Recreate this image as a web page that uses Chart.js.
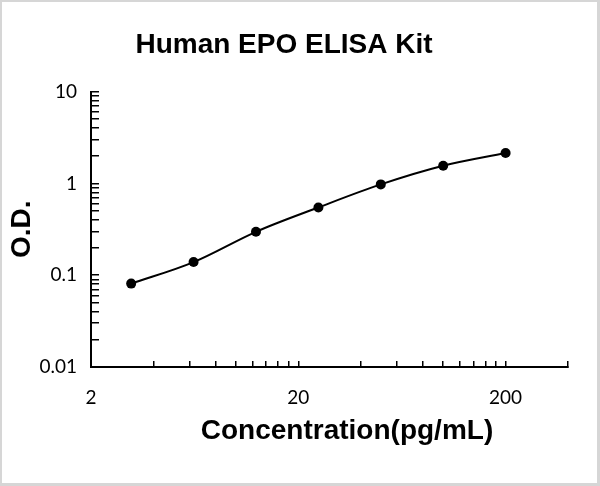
<!DOCTYPE html>
<html>
<head>
<meta charset="utf-8">
<script src="https://cdn.jsdelivr.net/npm/chart.js@4.4.0/dist/chart.umd.min.js"></script>
<style>
  html, body { margin: 0; padding: 0; background: #fff; }
  #wrap { position: relative; width: 600px; height: 486px; }
  #frame { position: absolute; left: 0; top: 0; right: 0; bottom: 0; box-sizing: border-box;
           border-style: solid; border-color: #d6d6d6; border-width: 2px 3px 3px 2px; pointer-events: none; }
</style>
</head>
<body>
<div id="wrap">
  <canvas id="curveChart" width="600" height="486"></canvas>
  <div id="frame"></div>
</div>
<script>
// standard curve
var concentrations = [3.125, 6.25, 12.5, 25, 50, 100, 200];
var odValues = [0.081, 0.139, 0.297, 0.547, 0.975, 1.556, 2.14];

// axis ticks (log scale, labels only on decades)
var xTicks = [2, 4, 6, 8, 10, 12, 14, 16, 18, 20, 40, 60, 80, 100, 120, 140, 160, 180, 200, 400];
var xLabels = {2: '2', 20: '20', 200: '200'};
var yTicks = [0.01, 0.02, 0.03, 0.04, 0.05, 0.06, 0.07, 0.08, 0.09,
              0.1, 0.2, 0.3, 0.4, 0.5, 0.6, 0.7, 0.8, 0.9,
              1, 2, 3, 4, 5, 6, 7, 8, 9, 10];
var yLabels = {0.01: '0.01', 0.1: '0.1', 1: '1', 10: '10'};

var chartTitle = 'Human EPO ELISA Kit';
var xTitle = 'Concentration(pg/mL)';
var yTitle = 'O.D.';

var boldFont = '"Liberation Sans", Arial, sans-serif';
var tickFont = 'Lato, "Liberation Sans", sans-serif';

// x title sits a bit right of the plot centre in the original
var xTitlePlugin = {
    id: 'xTitle',
    afterDraw: function (chart) {
        var ctx = chart.ctx;
        ctx.save();
        ctx.font = 'bold 28px ' + boldFont;
        ctx.fillStyle = '#000';
        ctx.textAlign = 'center';
        ctx.textBaseline = 'middle';
        ctx.fillText(xTitle, 347, 431);
        ctx.restore();
    }
};

var ctx = document.getElementById('curveChart').getContext('2d');
var chart = new Chart(ctx, {
    type: 'line',
    data: {
        datasets: [{
            label: 'OD',
            data: concentrations.map(function (c, i) { return {x: c, y: odValues[i]}; }),
            borderColor: '#000',
            backgroundColor: '#000',
            borderWidth: 2,
            tension: 0.4,
            cubicInterpolationMode: 'monotone',
            pointRadius: 5,
            pointBackgroundColor: '#000',
            pointBorderWidth: 0
        }]
    },
    options: {
        responsive: false,
        animation: false,
        layout: { padding: { left: 0, right: 32, top: 0, bottom: 0 } },
        plugins: {
            legend: { display: false },
            tooltip: { enabled: false },
            title: {
                display: true,
                text: chartTitle,
                color: '#000',
                font: { family: boldFont, size: 28, weight: 'bold' },
                padding: { top: 28, bottom: 30 }
            }
        },
        scales: {
            x: {
                type: 'logarithmic',
                min: 2,
                max: 400,
                afterBuildTicks: function (scale) {
                    scale.ticks = xTicks.map(function (v) { return {value: v}; });
                },
                afterFit: function (scale) { scale.height = 119; },
                ticks: {
                    autoSkip: false,
                    maxRotation: 0,
                    padding: 25,
                    color: '#000',
                    font: { family: tickFont, size: 19 },
                    callback: function (v) { return xLabels[v] || ''; }
                },
                grid: { drawOnChartArea: false, drawTicks: true, tickLength: -6, color: '#000', lineWidth: 1.5 },
                border: { display: true, color: '#000', width: 2 }
            },
            y: {
                type: 'logarithmic',
                min: 0.01,
                max: 10,
                afterBuildTicks: function (scale) {
                    scale.ticks = yTicks.map(function (v) { return {value: v}; });
                },
                afterFit: function (scale) { scale.width = 91; },
                ticks: {
                    autoSkip: false,
                    padding: 22,
                    color: '#000',
                    font: { family: tickFont, size: 19 },
                    callback: function (v) { return yLabels[v] || ''; }
                },
                title: {
                    display: true,
                    text: yTitle,
                    color: '#000',
                    font: { family: boldFont, size: 28, weight: 'bold' },
                    padding: { top: 5 }
                },
                grid: { drawOnChartArea: false, drawTicks: true, tickLength: -8, color: '#000', lineWidth: 1.5 },
                border: { display: true, color: '#000', width: 2 }
            }
        }
    },
    plugins: [xTitlePlugin]
});
</script>
</body>
</html>
